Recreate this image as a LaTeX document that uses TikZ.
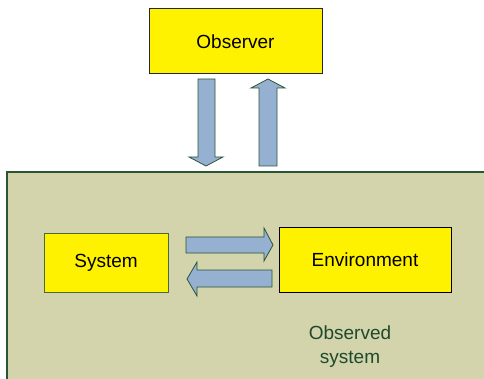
\documentclass[tikz,border=0pt]{standalone}
\usepackage{fontspec}
\setmainfont{Liberation Sans}
\definecolor{tan}{HTML}{D3D3AC}
\definecolor{dgreen}{HTML}{2A5535}
\definecolor{arrowblue}{HTML}{95B0D0}
\definecolor{txtgreen}{HTML}{1E4A2C}
\definecolor{sysedge}{HTML}{4A6A3A}
\begin{document}
\begin{tikzpicture}[x=1pt,y=-1pt,
  box/.style={fill=yellow,draw=black,line width=1pt,inner sep=0pt,font=\fontsize{19}{24}\selectfont},
  blockarrow/.style={fill=arrowblue,draw=dgreen,line width=0.8pt,line join=miter}]
\useasboundingbox (0,0) rectangle (484,379);
\clip (0,0) rectangle (484,379);
% outer observed-system area
\fill[tan] (7,172) rectangle (490,385);
\draw[dgreen,line width=1.5pt] (7,385) -- (7,172) -- (490,172);
% observer
\node[box,draw=black!85,minimum width=173pt,minimum height=65pt] (obs) at (235.5,41.5) {Observer};
% system and environment
\node[box,draw=sysedge,minimum width=124pt,minimum height=58pt] (sys) at (106,263) {System};
\node[box,minimum width=172pt,minimum height=64pt] (env) at (365,260) {Environment};
\node[text=txtgreen,align=center,font=\fontsize{19}{24}\selectfont] (lbl) at (350,347) {Observed\\system};
% block arrows
\draw[blockarrow] (198,79) -- (215,79) -- (215,157) -- (223,157) -- (206,166) -- (189,157) -- (198,157) -- cycle;
\draw[blockarrow] (259,166) -- (277,166) -- (277,88) -- (285,88) -- (268,79) -- (251,88) -- (259,88) -- cycle;
\draw[blockarrow] (186,237) -- (264,237) -- (264,228) -- (273,245) -- (264,261) -- (264,253) -- (186,253) -- cycle;
\draw[blockarrow] (272,270) -- (197,270) -- (197,262) -- (187,279) -- (197,296) -- (197,287) -- (272,287) -- cycle;
\end{tikzpicture}
\end{document}
